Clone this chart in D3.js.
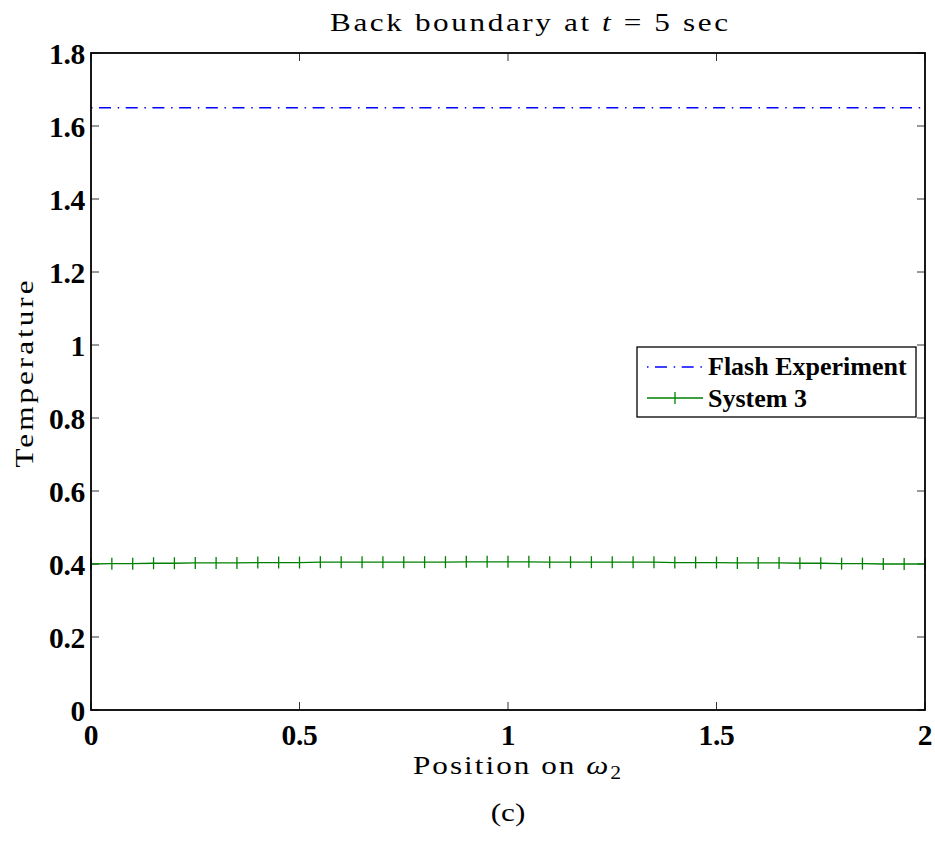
<!DOCTYPE html>
<html><head><meta charset="utf-8">
<script src="https://cdn.jsdelivr.net/npm/d3@7"></script>
<style>body{margin:0;background:#fff}</style>
</head><body>
<svg id="c" width="935" height="850"></svg>
<script>
const xTicks = [0, 0.5, 1, 1.5, 2];
const yTicks = [0, 0.2, 0.4, 0.6, 0.8, 1, 1.2, 1.4, 1.6, 1.8];
const positions = [0,0.05,0.1,0.15,0.2,0.25,0.3,0.35,0.4,0.45,0.5,0.55,0.6,0.65,0.7,0.75,0.8,0.85,0.9,0.95,1,
  1.05,1.1,1.15,1.2,1.25,1.3,1.35,1.4,1.45,1.5,1.55,1.6,1.65,1.7,1.75,1.8,1.85,1.9,1.95,2];
const flashValues = [1.65,1.65,1.65,1.65,1.65,1.65,1.65,1.65,1.65,1.65,1.65,1.65,1.65,1.65,1.65,1.65,1.65,1.65,1.65,1.65,1.65,
  1.65,1.65,1.65,1.65,1.65,1.65,1.65,1.65,1.65,1.65,1.65,1.65,1.65,1.65,1.65,1.65,1.65,1.65,1.65,1.65];
const system3Values = [0.400,0.401,0.401,0.402,0.402,0.403,0.403,0.403,0.404,0.404,0.404,0.405,0.405,0.405,0.405,0.405,0.405,0.405,0.406,0.406,0.406,
  0.406,0.405,0.405,0.405,0.405,0.405,0.405,0.404,0.404,0.404,0.403,0.403,0.403,0.402,0.402,0.401,0.401,0.400,0.400,0.400];
const seriesNames = ["Flash Experiment", "System 3"];

const svg = d3.select("#c");
const L = 91, R = 925, T = 53, B = 710;
const x = d3.scaleLinear().domain([0, 2]).range([L, R]);
const y = d3.scaleLinear().domain([0, 1.8]).range([B, T]);
const serif = "'Liberation Serif','Times New Roman','DejaVu Serif',serif";
const dash = "1.5,6.5,12,6.7";

// ticks (inward) on all sides
const tk = 8;
const g = svg.append("g");
xTicks.forEach(v => {
  g.append("line").attr("x1", x(v)).attr("x2", x(v)).attr("y1", B).attr("y2", B - tk).attr("stroke", "#000").attr("stroke-width", 0.8);
  g.append("line").attr("x1", x(v)).attr("x2", x(v)).attr("y1", T).attr("y2", T + tk).attr("stroke", "#000").attr("stroke-width", 0.8);
  svg.append("text").attr("x", x(v)).attr("y", 745).attr("text-anchor", "middle")
    .attr("font-family", serif).attr("font-weight", "bold").attr("font-size", 29.5).attr("letter-spacing", -0.3)
    .text(d3.format("")(v));
});
yTicks.forEach(v => {
  g.append("line").attr("y1", y(v)).attr("y2", y(v)).attr("x1", L).attr("x2", L + tk).attr("stroke", "#000").attr("stroke-width", 0.8);
  g.append("line").attr("y1", y(v)).attr("y2", y(v)).attr("x1", R).attr("x2", R - tk).attr("stroke", "#000").attr("stroke-width", 0.8);
  svg.append("text").attr("x", 85).attr("y", y(v) + 11).attr("text-anchor", "end")
    .attr("font-family", serif).attr("font-weight", "bold").attr("font-size", 29.5).attr("letter-spacing", -0.3)
    .text(d3.format("")(v));
});

// lines
const line = d3.line().x((d, i) => x(positions[i])).y(d => y(d));
svg.append("path").datum(flashValues).attr("d", line).attr("fill", "none")
  .attr("stroke", "#0000ff").attr("stroke-width", 1.3).attr("stroke-dasharray", dash);
svg.append("path").datum(system3Values).attr("d", line).attr("fill", "none")
  .attr("stroke", "#008000").attr("stroke-width", 1.3);
svg.append("g").selectAll("line").data(system3Values).join("line")
  .attr("x1", (d, i) => x(positions[i])).attr("x2", (d, i) => x(positions[i]))
  .attr("y1", d => y(d) - 6).attr("y2", d => y(d) + 6)
  .attr("stroke", "#008000").attr("stroke-width", 1.3);

// frame
svg.append("rect").attr("x", L).attr("y", T).attr("width", R - L).attr("height", B - T)
  .attr("fill", "none").attr("stroke", "#000").attr("stroke-width", 1.8);

// title & labels (LaTeX-like, horizontally widened)
const sx = 1.2;
svg.append("g").attr("transform", `translate(529,31) scale(${sx},1)`).append("text")
  .attr("text-anchor", "middle").attr("font-family", serif).attr("font-size", 26)
  .attr("textLength", 398 / sx).attr("lengthAdjust", "spacing")
  .html("Back boundary at <tspan font-style='italic'>t</tspan> = 5 sec");
svg.append("g").attr("transform", `translate(517,774) scale(${sx},1)`).append("text")
  .attr("text-anchor", "middle").attr("font-family", serif).attr("font-size", 26)
  .attr("textLength", 208 / sx).attr("lengthAdjust", "spacing")
  .html("Position on <tspan font-style='italic'>ω</tspan><tspan font-size='18' dy='5'>2</tspan>");
svg.append("g").attr("transform", `translate(33,374) rotate(-90) scale(${sx},1)`).append("text")
  .attr("text-anchor", "middle").attr("font-family", serif).attr("font-size", 26)
  .attr("textLength", 187 / sx).attr("lengthAdjust", "spacing")
  .text("Temperature");
svg.append("g").attr("transform", `translate(508,821) scale(${sx},1)`).append("text")
  .attr("text-anchor", "middle").attr("font-family", serif).attr("font-size", 26).text("(c)");

// legend
const lg = svg.append("g");
lg.append("rect").attr("x", 637).attr("y", 347).attr("width", 279).attr("height", 70)
  .attr("fill", "#fff").attr("stroke", "#000").attr("stroke-width", 1.3);
lg.append("line").attr("x1", 647).attr("x2", 703).attr("y1", 367).attr("y2", 367)
  .attr("stroke", "#0000ff").attr("stroke-width", 1.3).attr("stroke-dasharray", dash);
lg.append("line").attr("x1", 647).attr("x2", 703).attr("y1", 398).attr("y2", 398)
  .attr("stroke", "#008000").attr("stroke-width", 1.3);
lg.append("line").attr("x1", 675).attr("x2", 675).attr("y1", 392).attr("y2", 404)
  .attr("stroke", "#008000").attr("stroke-width", 1.3);
seriesNames.forEach((n, i) => {
  lg.append("text").attr("x", 708).attr("y", 375 + i * 32).attr("font-family", serif)
    .attr("font-weight", "bold").attr("font-size", 26).text(n);
});
</script>
</body></html>
